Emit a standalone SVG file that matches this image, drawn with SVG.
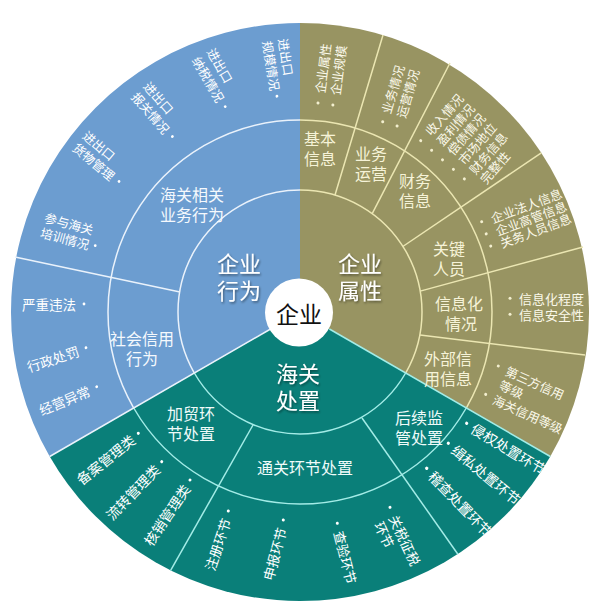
<svg xmlns="http://www.w3.org/2000/svg" width="605" height="612" viewBox="0 0 605 612">
<defs>
<style>
text { font-family: "Noto Sans CJK SC", "Noto Sans", sans-serif; dominant-baseline: central; }
.big { font-size: 22px; fill: #ffffff; text-anchor: middle; filter: url(#sh); }
.mid { font-size: 16px; text-anchor: middle; }
.mo { fill: #f6f3d8; }
.mt { fill: #effbf9; }
.mb { fill: #f5f9fd; }
.oo { fill: #fbf9ea; font-size: 12.5px; }
.ot { fill: #ffffff; font-size: 14px; }
.ob { fill: #ffffff; font-size: 12.5px; }
.os { fill: #ffffff; font-size: 13.5px; }
.end { text-anchor: end; }
.dot-o { fill: #f3efcf; }
.dot-w { fill: #ffffff; }
.lo { fill: none; stroke: #ebe6b2; stroke-width: 1.5; }
.lt { fill: none; stroke: #a3ece7; stroke-width: 1.5; }
.lb { fill: none; stroke: #eaf2fb; stroke-width: 1.5; }
</style>
<filter id="sh" x="-20%" y="-20%" width="140%" height="140%">
<feDropShadow dx="1" dy="1.5" stdDeviation="1" flood-color="#000000" flood-opacity="0.45"/>
</filter>
<clipPath id="disc"><circle cx="300" cy="312" r="289"/></clipPath>
</defs>
<rect x="0" y="0" width="605" height="612" fill="#ffffff"/>

<g id="sectors">
<path id="wedge-attr" d="M300,312 L300,23 A289,289 0 0,1 550.3,456.5 Z" fill="#989462"/>
<path id="wedge-customs" d="M300,312 L550.3,456.5 A289,289 0 0,1 49.7,456.5 Z" fill="#0a7f79"/>
<path id="wedge-behav" d="M300,312 L49.7,456.5 A289,289 0 0,1 300,23 Z" fill="#6c9dd0"/>
</g>

<g id="connectors">
<path class="lo" d="M300,190 A122,122 0 0,1 405.66,373"/>
<path class="lo" d="M300,120 A192,192 0 0,1 466.28,408"/>
<path class="lt" d="M405.66,373 A122,122 0 0,1 194.34,373"/>
<path class="lt" d="M466.28,408 A192,192 0 0,1 133.72,408"/>
<path class="lb" d="M194.34,373 A122,122 0 0,1 300,190"/>
<path class="lb" d="M133.72,408 A192,192 0 0,1 300,120"/>
<line class="lt" x1="329.4" y1="329" x2="550.3" y2="456.5"/>
<line class="lb" x1="270.6" y1="329" x2="49.7" y2="456.5"/>
<line class="lo" x1="335" y1="195" x2="383" y2="35"/>
<line class="lo" x1="372.2" y1="213.6" x2="450" y2="63"/>
<line class="lo" x1="402.8" y1="246.5" x2="541.3" y2="152.8"/>
<line class="lo" x1="420.2" y1="291.1" x2="583" y2="247"/>
<line class="lo" x1="420" y1="335" x2="585" y2="355"/>
<line class="lt" x1="253" y1="425" x2="170.5" y2="570.6"/>
<line class="lt" x1="362" y1="418" x2="457.9" y2="554.2"/>
<line class="lb" x1="180" y1="292" x2="15" y2="257"/>
</g>

<g id="main-labels">
<g id="n-attr"><text class="big" x="360" y="261.5">企业<tspan x="360" dy="27">属性</tspan></text></g>
<g id="n-behav"><text class="big" x="239" y="261.5">企业<tspan x="239" dy="27">行为</tspan></text></g>
<g id="n-customs"><text class="big" x="298" y="371.5">海关<tspan x="298" dy="27">处置</tspan></text></g>
</g>

<g id="mid-labels">
<g id="n-basic"><text class="mid mo" x="320" y="137.5">基本<tspan x="320" dy="20">信息</tspan></text></g>
<g id="n-biz"><text class="mid mo" x="371" y="153">业务<tspan x="371" dy="20">运营</tspan></text></g>
<g id="n-fin"><text class="mid mo" x="415" y="180">财务<tspan x="415" dy="20">信息</tspan></text></g>
<g id="n-key"><text class="mid mo" x="449" y="247.5">关键<tspan x="449" dy="20">人员</tspan></text></g>
<g id="n-it"><text class="mid mo" x="459" y="302.5">信息化<tspan x="461" dy="20">情况</tspan></text></g>
<g id="n-ext"><text class="mid mo" x="448" y="357.5">外部信<tspan x="448" dy="20">用信息</tspan></text></g>
<g id="n-follow"><text class="mid mt" x="419" y="416.5">后续监<tspan x="419" dy="20">管处置</tspan></text></g>
<g id="n-clear"><text class="mid mt" x="305" y="467">通关环节处置</text></g>
<g id="n-trade"><text class="mid mt" x="191" y="412.5">加贸环<tspan x="191" dy="20">节处置</tspan></text></g>
<g id="n-cust"><text class="mid mb" x="192" y="194">海关相关<tspan x="192" dy="20">业务行为</tspan></text></g>
<g id="n-social"><text class="mid mb" x="142" y="337.5">社会信用<tspan x="142" dy="20">行为</tspan></text></g>
</g>

<g id="outer-labels" clip-path="url(#disc)">
<g id="o-basic" transform="translate(318,103) rotate(-82.6)">
<circle class="dot-o" cx="0" cy="0" r="1.5"/><circle class="dot-o" cx="0" cy="15" r="1.5"/>
<text class="oo" x="10" y="0">企业属性<tspan x="10" dy="15">企业规模</tspan></text>
</g>
<g id="o-biz" transform="translate(382.7,121.7) rotate(-73.5)">
<circle class="dot-o" cx="0" cy="0" r="1.5"/><circle class="dot-o" cx="0" cy="15" r="1.5"/>
<text class="oo" x="9" y="0">业务情况<tspan x="9" dy="15">运营情况</tspan></text>
</g>
<g id="o-fin" transform="translate(420.7,140.7) rotate(-48.8)">
<circle class="dot-o" cx="0" cy="0" r="1.5"/><circle class="dot-o" cx="0" cy="14.5" r="1.5"/><circle class="dot-o" cx="0" cy="29" r="1.5"/><circle class="dot-o" cx="0" cy="43.5" r="1.5"/><circle class="dot-o" cx="0" cy="58" r="1.5"/>
<text class="oo" x="10" y="0">收入情况<tspan x="10" dy="14.5">盈利情况</tspan><tspan x="10" dy="14.5">偿债情况</tspan><tspan x="10" dy="14.5">市场地位</tspan><tspan x="10" dy="14.5">财务信息</tspan><tspan x="10" dy="14.5">完整性</tspan></text>
</g>
<g id="o-key" transform="translate(481.7,221.7) rotate(-20.3)">
<circle class="dot-o" cx="0" cy="0" r="1.5"/><circle class="dot-o" cx="0" cy="13" r="1.5"/><circle class="dot-o" cx="0" cy="26" r="1.5"/>
<text class="oo" x="10" y="0">企业法人信息<tspan x="10" dy="13">企业高管信息</tspan><tspan x="10" dy="13">关务人员信息</tspan></text>
</g>
<g id="o-it" transform="translate(510,298.3)">
<circle class="dot-o" cx="0" cy="0" r="1.5"/><circle class="dot-o" cx="0" cy="16" r="1.5"/>
<text class="oo" x="9" y="0" style="font-size:13px">信息化程度<tspan x="9" dy="16">信息安全性</tspan></text>
</g>
<g id="o-ext" transform="translate(498.3,366) rotate(24)">
<circle class="dot-o" cx="0" cy="0" r="1.5"/><circle class="dot-o" cx="0" cy="31" r="1.5"/>
<text class="oo" x="9" y="0">第三方信用<tspan x="9" dy="15">等级</tspan><tspan x="9" dy="16">海关信用等级</tspan></text>
</g>

<g id="o-follow">
<g transform="translate(466.7,423.3) rotate(31)"><circle class="dot-w" cx="0" cy="0" r="1.6"/><text class="ot" x="7" y="0">侵权处置环节</text></g>
<g transform="translate(448.3,443.3) rotate(39.5)"><circle class="dot-w" cx="0" cy="0" r="1.6"/><text class="ot" x="7" y="0">缉私处置环节</text></g>
<g transform="translate(426.7,468.3) rotate(46)"><circle class="dot-w" cx="0" cy="0" r="1.6"/><text class="ot" x="7" y="0">稽查处置环节</text></g>
</g>
<g id="o-clear">
<g transform="translate(228.3,511) rotate(-71.6)"><circle class="dot-w" cx="0" cy="0" r="1.5"/><text class="os end" x="-8" y="0">注册环节</text></g>
<g transform="translate(283.3,520) rotate(-75)"><circle class="dot-w" cx="0" cy="0" r="1.5"/><text class="os end" x="-8" y="0">申报环节</text></g>
<g transform="translate(337.3,523.3) rotate(76)"><circle class="dot-w" cx="0" cy="0" r="1.5"/><text class="os" x="8" y="0">查验环节</text></g>
<g transform="translate(390,507.3) rotate(65)"><circle class="dot-w" cx="0" cy="0" r="1.5"/><text class="os" x="9" y="0">关税征税<tspan x="9" dy="16">环节</tspan></text></g>
</g>
<g id="o-trade">
<g transform="translate(138.3,433.3) rotate(-38.4)"><circle class="dot-w" cx="0" cy="0" r="1.5"/><text class="ot end" x="-7" y="0">备案管理类</text></g>
<g transform="translate(161.7,461.7) rotate(-46)"><circle class="dot-w" cx="0" cy="0" r="1.5"/><text class="ot end" x="-7" y="0">流转管理类</text></g>
<g transform="translate(190,480) rotate(-56)"><circle class="dot-w" cx="0" cy="0" r="1.5"/><text class="ot end" x="-7" y="0">核销管理类</text></g>
</g>

<g id="o-cust">
<g transform="translate(283.5,38.5) rotate(81)"><text class="ob" x="0" y="0">进出口<tspan x="0" dy="15.5">规模情况</tspan></text><circle class="dot-w" cx="56" cy="15.5" r="1.4"/></g>
<g transform="translate(211,49) rotate(60)"><text class="ob" x="0" y="0">进出口<tspan x="0" dy="16.5">纳税情况</tspan></text><circle class="dot-w" cx="57" cy="16.5" r="1.4"/></g>
<g transform="translate(146.7,83.3) rotate(49)"><text class="ob" x="0" y="0">进出口<tspan x="0" dy="15.5">报关情况</tspan></text><circle class="dot-w" cx="57" cy="15.5" r="1.4"/></g>
<g transform="translate(85,133.3) rotate(40)"><text class="ob" x="0" y="0">进出口<tspan x="0" dy="15">货物管理</tspan></text><circle class="dot-w" cx="57" cy="15" r="1.4"/></g>
<g transform="translate(45,216.7) rotate(15)"><text class="ob" x="0" y="0">参与海关<tspan x="0" dy="15">培训情况</tspan></text><circle class="dot-w" cx="56" cy="15" r="1.4"/></g>
</g>
<g id="o-social">
<g transform="translate(84,304)"><circle class="dot-w" cx="0" cy="0" r="1.4"/><text class="os end" x="-8" y="0">严重违法</text></g>
<g transform="translate(86,347.7) rotate(-18)"><circle class="dot-w" cx="0" cy="0" r="1.4"/><text class="os end" x="-8" y="0">行政处罚</text></g>
<g transform="translate(96.7,386.7) rotate(-22.4)"><circle class="dot-w" cx="0" cy="0" r="1.4"/><text class="os end" x="-8" y="0">经营异常</text></g>
</g>
</g>

<g id="n-center">
<circle cx="299" cy="312.5" r="34" fill="#ffffff"/>
<text x="299" y="313" font-size="23" text-anchor="middle" fill="#111111">企业</text>
</g>
</svg>
